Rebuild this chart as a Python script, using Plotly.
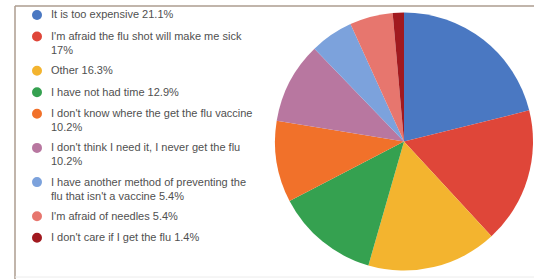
import plotly.graph_objects as go

labels = [
    "It is too expensive 21.1%",
    "I'm afraid the flu shot will make me sick<br>17%",
    "Other 16.3%",
    "I have not had time 12.9%",
    "I don't know where the get the flu vaccine<br>10.2%",
    "I don't think I need it, I never get the flu<br>10.2%",
    "I have another method of preventing the<br>flu that isn't a vaccine 5.4%",
    "I'm afraid of needles 5.4%",
    "I don't care if I get the flu 1.4%",
]
values = [21.1, 17, 16.3, 12.9, 10.2, 10.2, 5.4, 5.4, 1.4]
colors = ["#4a78c2", "#df4639", "#f3b42f", "#35a150", "#f1712a",
          "#b877a0", "#7ca2dc", "#e7766e", "#a1191f"]

W, H = 534, 279

fig = go.Figure()
fig.add_trace(go.Pie(
    labels=labels, values=values, sort=False, direction="clockwise", rotation=0,
    marker=dict(colors=colors, line=dict(width=0)),
    textinfo="none", hoverinfo="label", showlegend=False,
    domain=dict(x=[275/W, 533/W], y=[1-271/H, 1-12/H]),
))

# legend layout (pixel positions from top-left)
LEG_MARK_X = 37
LEG_TEXT_X = 50
LEG_TOP = 15
ROW_GAP = 21.5
LINE_H = 12.7
BOX_X = 15
BOX_Y = 6

shapes = [
    dict(type="line", xref="paper", yref="paper", x0=BOX_X/W, x1=1, y0=1-BOX_Y/H, y1=1-BOX_Y/H,
         line=dict(color="#ad9c8f", width=1.5)),
    dict(type="line", xref="paper", yref="paper", x0=BOX_X/W, x1=BOX_X/W, y0=0, y1=1-BOX_Y/H,
         line=dict(color="#ad9c8f", width=1.5)),
    dict(type="line", xref="paper", yref="paper", x0=BOX_X/W, x1=1, y0=2/H, y1=2/H,
         line=dict(color="#ececec", width=1)),
]
annotations = []
yc = LEG_TOP
for lab, col in zip(labels, colors):
    nlines = lab.count("<br>") + 1
    shapes.append(dict(type="circle", xref="paper", yref="paper",
                       x0=(LEG_MARK_X-5)/W, x1=(LEG_MARK_X+5)/W,
                       y0=1-(yc+5)/H, y1=1-(yc-5)/H,
                       fillcolor=col, line=dict(width=0)))
    annotations.append(dict(xref="paper", yref="paper", x=LEG_TEXT_X/W, y=1-(yc-7.5)/H,
                            xanchor="left", yanchor="top", align="left", showarrow=False,
                            text=lab, borderpad=0,
                            font=dict(family="Arial, Liberation Sans, sans-serif", size=11,
                                      color="#505050")))
    yc += ROW_GAP + (nlines-1)*LINE_H

fig.update_layout(
    width=W, height=H,
    margin=dict(l=0, r=0, t=0, b=0),
    paper_bgcolor="white", plot_bgcolor="white",
    showlegend=False,
    shapes=shapes, annotations=annotations,
)
fig.write_html("out.html", config={"displayModeBar": False},
               post_script="document.body.style.margin='0';")
